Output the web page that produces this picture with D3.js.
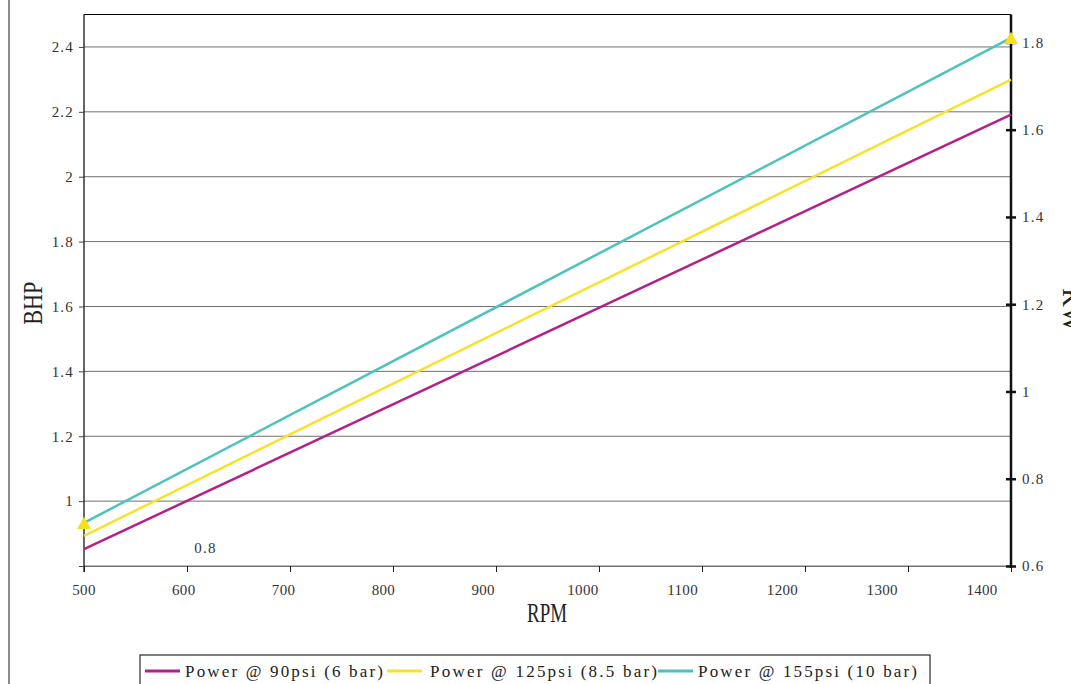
<!DOCTYPE html>
<html>
<head>
<meta charset="utf-8">
<script src="https://cdn.jsdelivr.net/npm/d3@7"></script>
<style>
  body { margin: 0; background: #fff; }
  svg { display: block; }
</style>
</head>
<body>
<div id="chart"></div>
<script>
// data
const rpm = [500, 1400];
const series = [
  { name: "Power @ 90psi (6 bar)", color: "#B4208A", values: [0.852, 2.191] },
  { name: "Power @ 125psi (8.5 bar)", color: "#F6E22B", values: [0.893, 2.299] },
  { name: "Power @ 155psi (10 bar)", color: "#4EC3BD", values: [0.933, 2.428] }
];
const xTicks = [500, 600, 700, 800, 900, 1000, 1100, 1200, 1300, 1400];
const bhpTicks = [0.8, 1, 1.2, 1.4, 1.6, 1.8, 2, 2.2, 2.4];
const kwTicks = [0.6, 0.8, 1, 1.2, 1.4, 1.6, 1.8];

const fullWidth = 1071, fullHeight = 684;
const margin = { top: 14.5, right: 60, bottom: 118, left: 84 };
const plotRight = 1011;

const svg = d3.select("#chart")
  .append("svg")
  .attr("width", fullWidth)
  .attr("height", fullHeight);

const x = d3.scaleLinear().domain([500, 1400]).range([margin.left, plotRight]);
// tick labels drift left of their ticks in the original
const xLabel = d3.scaleLinear().domain([500, 1400]).range([margin.left, 982]);
const y = d3.scaleLinear().domain([0.8, 2.5]).range([566, margin.top]);
const y2 = d3.scaleLinear().domain([0.6, 1.864]).range([566, margin.top]);

const serif = "'Liberation Serif', 'DejaVu Serif', serif";

function styleTick(sel) {
  sel.style("font-family", serif)
    .style("font-size", "15px")
    .style("letter-spacing", "1.2px")
    .style("fill", "#333");
}

// frame edge on the left
svg.append("line")
  .attr("x1", 9).attr("x2", 9).attr("y1", 0).attr("y2", fullHeight)
  .attr("stroke", "#8a8a8a").attr("stroke-width", 2);

// === Gridlines ===
svg.append("g")
  .selectAll("line")
  .data(bhpTicks)
  .enter()
  .append("line")
  .attr("x1", margin.left).attr("x2", plotRight)
  .attr("y1", d => y(d)).attr("y2", d => y(d))
  .attr("stroke", "#707070").attr("stroke-width", 1);

// plot border (top and left)
svg.append("line")
  .attr("x1", margin.left).attr("x2", plotRight)
  .attr("y1", margin.top).attr("y2", margin.top)
  .attr("stroke", "#000").attr("stroke-width", 1);
svg.append("line")
  .attr("x1", margin.left).attr("x2", margin.left)
  .attr("y1", margin.top).attr("y2", y(0.8) + 6)
  .attr("stroke", "#000").attr("stroke-width", 1.2);

// === Left axis ===
const left = svg.append("g")
  .attr("transform", `translate(${margin.left},0)`)
  .call(d3.axisLeft(y).tickValues(bhpTicks).tickSize(5).tickFormat(d => d === 0.8 ? "" : d));
left.select(".domain").remove();
left.selectAll(".tick line").attr("stroke", "#444");
left.selectAll(".tick text").attr("x", -10).call(styleTick);

// the stray 0.8 label
svg.append("text")
  .attr("x", x(618)).attr("y", y(0.84))
  .attr("text-anchor", "middle")
  .call(styleTick)
  .text(0.8);

// === Bottom axis ===
const bottom = svg.append("g")
  .attr("transform", `translate(0,${y(0.8)})`)
  .call(d3.axisBottom(x).tickValues(xTicks).tickSize(6).tickFormat(""));
bottom.select(".domain").attr("stroke", "#707070");
bottom.selectAll(".tick line").attr("stroke", "#222");

svg.append("g")
  .selectAll("text")
  .data(xTicks)
  .enter()
  .append("text")
  .attr("x", d => xLabel(d))
  .attr("y", 595)
  .attr("text-anchor", "middle")
  .call(styleTick)
  .style("letter-spacing", "0.3px")
  .text(d => d);

// === Right axis (kW) ===
const right = svg.append("g")
  .attr("transform", `translate(${plotRight},0)`)
  .call(d3.axisRight(y2).tickValues(kwTicks).tickSize(5).tickFormat(d => d));
right.select(".domain").remove();
right.append("line")
  .attr("y1", margin.top).attr("y2", 568)
  .attr("stroke", "#111").attr("stroke-width", 2.5);
right.selectAll(".tick line")
  .attr("x1", -5).attr("x2", 5)
  .attr("stroke", "#111").attr("stroke-width", 2.5);
right.selectAll(".tick text").attr("x", 11).call(styleTick);

// === Series ===
const line = d3.line()
  .x((d, i) => x(rpm[i]))
  .y(d => y(d));

svg.append("g")
  .selectAll("path")
  .data(series)
  .enter()
  .append("path")
  .attr("d", d => line(d.values))
  .attr("fill", "none")
  .attr("stroke", d => d.color)
  .attr("stroke-width", 2.5);

// yellow triangle markers on the top series ends
const topSeries = series[2];
svg.append("g")
  .selectAll("path")
  .data(topSeries.values)
  .enter()
  .append("path")
  .attr("transform", (d, i) => `translate(${x(rpm[i])},${y(d) + 2})`)
  .attr("d", d3.symbol().type(d3.symbolTriangle).size(85))
  .attr("fill", "#F6E01E");

// === Axis Labels ===
svg.append("text")
  .attr("transform", `translate(42, ${(margin.top + 566) / 2 + 13}) rotate(-90)`)
  .attr("text-anchor", "middle")
  .attr("textLength", 43)
  .attr("lengthAdjust", "spacingAndGlyphs")
  .style("font-family", serif)
  .style("font-size", "28px")
  .style("fill", "#222")
  .text("BHP");

svg.append("text")
  .attr("x", 547)
  .attr("y", 622)
  .attr("text-anchor", "middle")
  .attr("textLength", 40)
  .attr("lengthAdjust", "spacingAndGlyphs")
  .style("font-family", serif)
  .style("font-size", "28px")
  .style("fill", "#222")
  .text("RPM");

// cut off at the right edge, as in the original
svg.append("text")
  .attr("transform", `translate(1063, 310) rotate(90)`)
  .attr("text-anchor", "middle")
  .style("font-family", serif)
  .style("font-size", "26px")
  .style("fill", "#222")
  .text("KW");

// === Legend ===
const legend = svg.append("g").attr("transform", "translate(140, 655)");
legend.append("rect")
  .attr("width", 790).attr("height", 40)
  .attr("fill", "#fff").attr("stroke", "#000").attr("stroke-width", 1);

const itemX = [5, 247, 518];
const textLen = [198, 227, 219];
series.forEach((s, i) => {
  const g = legend.append("g").attr("transform", `translate(${itemX[i]}, 16)`);
  g.append("line")
    .attr("x1", 0).attr("x2", 35)
    .attr("stroke", s.color).attr("stroke-width", 3);
  g.append("text")
    .attr("x", i === 1 ? 43 : 40)
    .attr("y", 6)
    .attr("textLength", textLen[i])
    .attr("lengthAdjust", "spacing")
    .style("font-family", serif)
    .style("font-size", "17px")
    .style("fill", "#222")
    .text(s.name);
});
</script>
</body>
</html>
